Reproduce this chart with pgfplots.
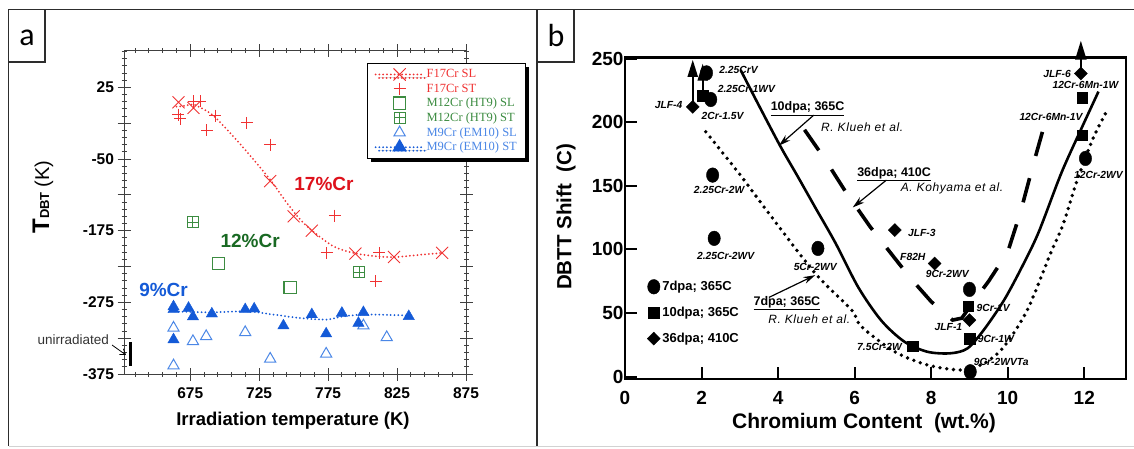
\documentclass[border=0pt]{standalone}
\usepackage{fontspec}
\setmainfont{Liberation Sans}
\newfontfamily\legfont{Liberation Serif}
\newfontfamily\panelfont{Carlito}
\newfontfamily\spacedfont[LetterSpace=5]{Liberation Sans}
\usepackage{pgfplots}
\pgfplotsset{compat=1.18}
\usetikzlibrary{arrows.meta,shadows}

\definecolor{fred}{RGB}{240,50,50}
\definecolor{tred}{RGB}{222,18,28}
\definecolor{fgreen}{RGB}{60,140,65}
\definecolor{tgreen}{RGB}{25,105,35}
\definecolor{fblue}{RGB}{20,90,215}
\definecolor{lblue}{RGB}{75,135,230}
\definecolor{framegray}{RGB}{45,45,45}

% square with a plus inside (M12Cr ST)
\pgfdeclareplotmark{boxplus}{%
  \pgfpathrectangle{\pgfqpoint{-\pgfplotmarksize}{-\pgfplotmarksize}}{\pgfqpoint{2\pgfplotmarksize}{2\pgfplotmarksize}}%
  \pgfpathmoveto{\pgfqpoint{-\pgfplotmarksize}{0pt}}\pgfpathlineto{\pgfqpoint{\pgfplotmarksize}{0pt}}%
  \pgfpathmoveto{\pgfqpoint{0pt}{-\pgfplotmarksize}}\pgfpathlineto{\pgfqpoint{0pt}{\pgfplotmarksize}}%
  \pgfusepathqstroke}

\begin{document}
\begin{tikzpicture}[x=1pt,y=1pt]
\useasboundingbox (0,0) rectangle (1134,448);
% panel frames
\draw[framegray, line width=1.3pt] (1134,438.5) -- (8.5,438.5) -- (8.5,2);
\draw[framegray, line width=1.3pt] (537,438.5) -- (537,2);
\draw[gray!35, line width=1pt] (8.5,2) -- (1134,2);
\draw[framegray, line width=1.3pt] (8.5,386) -- (45,386) -- (45,438.5);
\draw[framegray, line width=1.3pt] (537,386) -- (574,386) -- (574,438.5);
\node[font=\panelfont\fontsize{32}{32}\selectfont] at (27,410) {a};
\node[font=\panelfont\fontsize{32}{32}\selectfont] at (556,412) {b};

% ---------------- panel a ----------------
\begin{axis}[
  at={(124pt,74pt)}, anchor=south west, scale only axis,
  width=342pt, height=323.3pt,
  xmin=627, xmax=875, ymin=-375, ymax=76,
  clip=false,
  axis line style={draw=black!75, line width=0.8pt},
  tick style={draw=black!75, line width=0.8pt},
  tick align=center,
  major tick length=13pt, minor tick length=5pt,
  xtick={675,725,775,825,875},
  minor xtick={635,645,...,865},
  ytick={-375,-325,...,25},
  yticklabels={-375,,-275,,-175,,-50,,25},
  minor ytick={-365,-355,...,75},
  ticklabel style={font=\bfseries\fontsize{15.5}{16}\selectfont},
  xticklabel style={yshift=-4pt},
  /pgf/number format/assume math mode=true,
  legend cell align=left,
  legend style={at={(0.7105,0.962)}, anchor=north west, draw=black, line width=1.2pt, fill=white,
    drop shadow={shadow xshift=3.5pt, shadow yshift=-3.5pt, fill=black, opacity=1},
    font=\legfont\fontsize{12.5}{13}\selectfont, inner xsep=7pt, inner ysep=4pt, row sep=0.5pt},
  legend image code/.code={\draw[mark repeat=2,mark phase=2,#1] plot coordinates {(0pt,0pt) (24pt,0pt) (48pt,0pt)};},
]
% fitted lines
\addplot[fred, line width=2pt, dash pattern=on 0pt off 3.8pt, line cap=round, smooth, forget plot] coordinates {
 (665,-2) (671,-1) (677,1) (684,-5) (692,-15) (706,-43) (721,-76) (733,-104) (745,-136) (755,-160)
 (764,-176) (779,-197) (793,-206) (806,-210) (822,-212) (843,-208.5) (858,-206)};
\addplot[fblue, line width=2pt, dash pattern=on 0pt off 3.8pt, line cap=round, smooth, forget plot] coordinates {
 (664,-287.6) (689.5,-289) (716,-287.6) (735,-292) (755,-297) (774,-299) (786,-294.6) (803,-292) (836,-293.6)};
% F17Cr SL
\addplot[only marks, mark=x, mark size=8.5pt, fred, line width=0.9pt, forget plot] coordinates {
 (666.5,4) (677.4,-3.8) (733,-106) (750,-155) (763.2,-175) (794.8,-207) (822.8,-211.7) (857.7,-206)};
% F17Cr ST
\addplot[only marks, mark=+, mark size=6pt, fred, line width=1pt, forget plot] coordinates {
 (666.5,-13) (667.8,-19) (677.4,5.5) (682.2,5.5) (687.1,-35) (693.1,-14.5) (716.1,-24.7) (733,-55)
 (780,-154) (774,-206) (812.2,-206) (809.6,-245.8)};
% M12Cr (HT9) SL
\addplot[only marks, mark=square, mark size=6.2pt, fgreen, line width=1.1pt, forget plot] coordinates {
 (695.6,-221) (747.5,-254)};
% M12Cr (HT9) ST
\addplot[only marks, mark=boxplus, mark size=5.5pt, fgreen, line width=1pt, forget plot] coordinates {
 (677,-163) (797.7,-233.2)};
% M9Cr (EM10) SL
\addplot[only marks, mark=triangle, mark size=6.5pt, lblue, line width=1pt, forget plot] coordinates {
 (662.9,-310.8) (662.9,-363.4) (677,-329.5) (686.6,-322.5) (714.9,-317) (733,-354) (773.6,-347)
 (800.6,-307.6) (817.5,-324)};
% M9Cr (EM10) ST
\addplot[only marks, mark=triangle*, mark size=6.5pt, fblue, forget plot] coordinates {
 (662.9,-285) (662.9,-281) (662.9,-327) (673.8,-283) (677,-295) (690.7,-291) (714.9,-285) (721.4,-284)
 (742.6,-307.6) (763.2,-292) (773.6,-318.8) (785,-290) (797,-304) (800.6,-289) (833.5,-294.6)};
% unirradiated bar
\addplot[black, line width=3pt, forget plot] coordinates {(632,-331) (632,-364)};

\addlegendimage{fred, line width=2pt, dash pattern=on 0pt off 3.8pt, line cap=round, mark=x, mark size=8.5pt, mark options={solid, line width=0.9pt}}
\addlegendentry{\textcolor{fred}{F17Cr SL}}
\addlegendimage{only marks, fred, mark=+, mark size=6pt, line width=1pt}
\addlegendentry{\textcolor{fred}{F17Cr ST}}
\addlegendimage{only marks, fgreen, mark=square, mark size=6.2pt, line width=1.1pt}
\addlegendentry{\textcolor{fgreen}{M12Cr (HT9) SL}}
\addlegendimage{only marks, fgreen, mark=boxplus, mark size=5.5pt, line width=1pt}
\addlegendentry{\textcolor{fgreen}{M12Cr (HT9) ST}}
\addlegendimage{only marks, lblue, mark=triangle, mark size=6.5pt, line width=1pt}
\addlegendentry{\textcolor{lblue}{M9Cr (EM10) SL}}
\addlegendimage{fblue, line width=2pt, dash pattern=on 0pt off 3.8pt, line cap=round, mark=triangle*, mark size=6.5pt, mark options={solid}}
\addlegendentry{\textcolor{lblue}{M9Cr (EM10) ST}}

\node[font=\bfseries\fontsize{19}{19}\selectfont, text=tred] at (axis cs:772,-110) {17\%Cr};
\node[font=\bfseries\fontsize{19}{19}\selectfont, text=tgreen] at (axis cs:718.5,-190) {12\%Cr};
\node[font=\bfseries\fontsize{19}{19}\selectfont, text=fblue] at (axis cs:655.7,-257.3) {9\%Cr};
\end{axis}

% panel a labels
\node[font=\bfseries\fontsize{18.5}{19}\selectfont] at (293,27) {Irradiation temperature (K)};
\node[rotate=90] at (43,251) {{\bfseries\fontsize{24}{24}\selectfont T}{\bfseries\fontsize{13}{13}\selectfont DBT}\hspace{5pt}{\fontsize{20}{20}\selectfont (K)}};
\node[anchor=east, font=\fontsize{13.5}{14}\selectfont, text=black!80, inner sep=0pt] at (109,108) {unirradiated};
\draw[-{Straight Barb[length=5pt,width=7pt]}, line width=0.8pt] (112,103) -- (126,93);

% ---------------- panel b ----------------
\begin{axis}[
  at={(625pt,69pt)}, anchor=south west, scale only axis,
  width=501pt, height=321.5pt,
  xmin=0, xmax=13.09, ymin=-1.8, ymax=250.8,
  clip=false,
  axis line style={black, line width=2.2pt},
  tick style={black, line width=2pt},
  tick align=inside, major tick length=12pt,
  xtick={0,2,...,12}, ytick={0,50,...,250},
  xtick pos=bottom, ytick pos=left,
  ticklabel style={font=\bfseries\fontsize{19}{19}\selectfont},
  xticklabel style={yshift=-9pt},
  yticklabel style={xshift=2pt},
  /pgf/number format/assume math mode=true,
  legend cell align=left,
  legend style={at={(axis cs:0.5,50.3)}, anchor=west, draw=none, fill=none,
    font=\bfseries\fontsize{13}{13}\selectfont, row sep=11pt},
  legend image code/.code={\draw[#1] plot coordinates {(0pt,0pt)};},
]
% 10dpa; 365C (R. Klueh et al.)
\addplot[black, line width=2.6pt, smooth, forget plot] coordinates {
 (3.02,241) (3.5,213) (4.06,181) (4.5,158) (4.97,133) (5.5,105) (6.1,70) (6.7,44) (7.3,27.5)
 (7.9,19.6) (8.5,18.4) (8.95,22.3) (9.38,37) (9.9,60) (10.35,85) (10.8,113) (11.4,160) (11.94,196) (12.37,224)};
% 36dpa; 410C (A. Kohyama et al.)
\addplot[black, line width=3.6pt, dash pattern=on 25pt off 23pt, forget plot] coordinates {
 (4.69,194) (5.2,172) (5.75,146) (6.4,118) (7.05,93) (7.5,76) (8.0,59) (8.56,44.5) (8.8,46) (9.08,58)
 (9.5,75) (10.0,98) (10.34,130) (10.65,165) (10.94,196)};
% 7dpa; 365C (R. Klueh et al.)
\addplot[black, line width=3.8pt, dash pattern=on 0pt off 6.8pt, line cap=round, smooth, forget plot] coordinates {
 (2.11,192.4) (2.98,159.7) (3.76,128.3) (4.97,81.2) (5.92,52.4) (6.18,39.3) (7.05,19.6) (7.91,9.2)
 (8.78,5.3) (9.38,10.5) (9.9,23.6) (10.51,52.4) (11.12,97) (11.45,120) (11.81,154) (12.24,188) (12.63,211)};
% upward arrows
\addplot[black, line width=2pt, -{Triangle[length=17pt,width=10pt]}, forget plot] coordinates {(1.77,214) (1.77,249)};
\addplot[black, line width=2pt, -{Triangle[length=17pt,width=10pt]}, forget plot] coordinates {(2.03,223) (2.03,246)};
\addplot[black, line width=2pt, -{Triangle[length=19pt,width=11pt]}, forget plot] coordinates {(11.91,240) (11.91,264)};
% markers
\addplot[only marks, mark=*, mark size=6.2pt, mark options={yscale=1.18}, black, forget plot] coordinates {
 (2.13,238.7) (2.24,217.8) (2.29,158.4) (2.33,108.7) (5.04,100.8) (9.0,68.6) (9.02,3.9) (12.03,171.5)};
\addplot[only marks, mark=square*, mark size=5.3pt, black, forget plot] coordinates {
 (2.03,221) (7.52,24.1) (8.97,55.5) (9.01,30.1) (11.94,219.4) (11.94,189.8)};
\addplot[only marks, mark=diamond*, mark size=6.5pt, mark options={xscale=1.33}, black, forget plot] coordinates {
 (1.77,212) (7.05,115.2) (8.09,89) (9.0,44.5) (11.91,238.2)};

\addlegendimage{only marks, black, mark=*, mark size=6.2pt, mark options={yscale=1.18}}
\addlegendentry{7dpa; 365C}
\addlegendimage{only marks, black, mark=square*, mark size=5.3pt}
\addlegendentry{10dpa; 365C}
\addlegendimage{only marks, black, mark=diamond*, mark size=6.5pt, mark options={xscale=1.33}}
\addlegendentry{36dpa; 410C}

% point labels
\begin{scope}[every node/.style={font=\bfseries\itshape\fontsize{10.3}{11}\selectfont, inner sep=0pt}]
\node[anchor=west] at (axis cs:2.46,241.4) {2.25CrV};
\node[anchor=west] at (axis cs:2.42,226.4) {2.25Cr-1WV};
\node at (axis cs:1.14,213.3) {JLF-4};
\node at (axis cs:2.55,204.7) {2Cr-1.5V};
\node at (axis cs:2.46,146.6) {2.25Cr-2W};
\node at (axis cs:2.63,94.8) {2.25Cr-2WV};
\node at (axis cs:4.97,86.4) {5Cr-2WV};
\node[anchor=west] at (axis cs:7.39,113) {JLF-3};
\node at (axis cs:7.52,94.2) {F82H};
\node at (axis cs:8.42,80.6) {9Cr-2WV};
\node at (axis cs:9.62,53.7) {9Cr-1V};
\node at (axis cs:8.45,38.8) {JLF-1};
\node at (axis cs:9.69,29.4) {9Cr-1W};
\node at (axis cs:6.65,23) {7.5Cr-2W};
\node at (axis cs:9.83,11.8) {9Cr-2WVTa};
\node at (axis cs:11.29,238.2) {JLF-6};
\node at (axis cs:12.03,229) {12Cr-6Mn-1W};
\node at (axis cs:11.13,203.7) {12Cr-6Mn-1V};
\node at (axis cs:12.37,158.4) {12Cr-2WV};
\end{scope}
% curve annotations
\node[font=\bfseries\fontsize{12.5}{13}\selectfont] at (axis cs:4.77,210.7) {\underline{10dpa; 365C}};
\node[font=\spacedfont\itshape\fontsize{12}{12}\selectfont, anchor=west, inner sep=0pt] at (axis cs:5.12,195.8) {R. Klueh et al.};
\draw[-{Stealth[length=12pt,width=7pt]}, line width=1.2pt] (axis cs:4.93,205.5) -- (axis cs:4.02,181.5);
\node[font=\bfseries\fontsize{12.5}{13}\selectfont] at (axis cs:7.03,159) {\underline{36dpa; 410C}};
\node[font=\spacedfont\itshape\fontsize{12}{12}\selectfont, anchor=west, inner sep=0pt] at (axis cs:7.2,148) {A. Kohyama et al.};
\draw[-{Stealth[length=12pt,width=7pt]}, line width=1.2pt] (axis cs:6.83,154.5) -- (axis cs:5.95,133);
\node[font=\bfseries\fontsize{12.5}{13}\selectfont] at (axis cs:4.23,57.6) {\underline{7dpa; 365C}};
\node[font=\spacedfont\itshape\fontsize{12}{12}\selectfont, anchor=west, inner sep=0pt] at (axis cs:3.74,45.3) {R. Klueh et al.};
\draw[-{Stealth[length=12pt,width=7pt]}, line width=1.2pt] (axis cs:3.76,62.3) -- (axis cs:4.97,79.8);
\end{axis}

% panel b labels
\node[font=\bfseries\fontsize{21}{21}\selectfont] at (864,25) {Chromium Content\ \ (wt.\%)};
\node[font=\bfseries\fontsize{20.5}{21}\selectfont, rotate=90] at (566,231) {DBTT Shift\ \ (C)};
\end{tikzpicture}
\end{document}
